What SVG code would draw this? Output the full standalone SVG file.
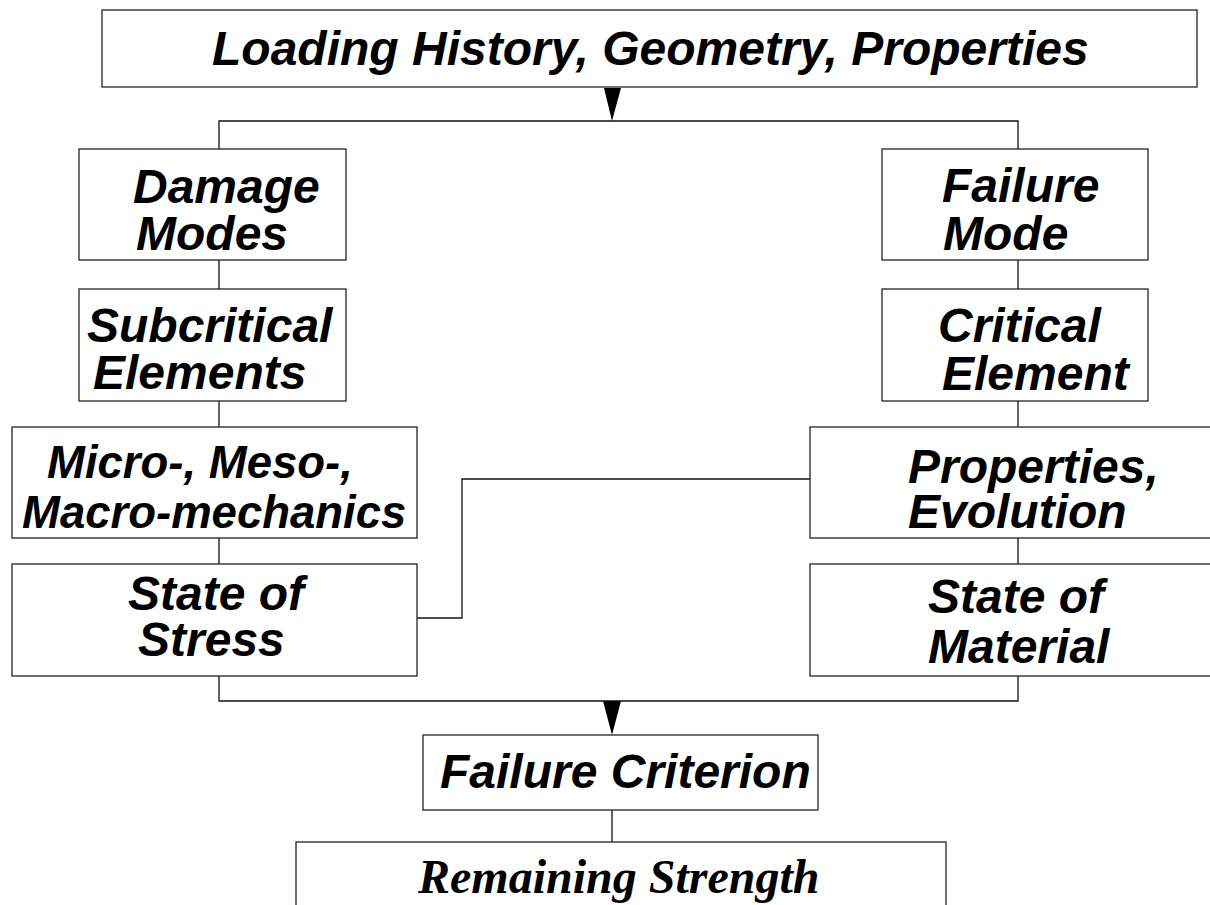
<svg xmlns="http://www.w3.org/2000/svg" width="1210" height="905" viewBox="0 0 1210 905">
<style>
.box{fill:#fff;stroke:#222;stroke-width:1.3}
.ln{fill:none;stroke:#111;stroke-width:1.3}
.t{font-family:"Liberation Sans",Arial,sans-serif;font-weight:bold;font-style:italic;font-size:48px;fill:#000}
.sm{font-size:45.5px}
.s{font-family:"Liberation Serif","Times New Roman",serif;font-weight:bold;font-style:italic;font-size:48px;fill:#000}
.ah{fill:#000}
</style>
<rect width="1210" height="905" fill="#fff"/>
<g id="connectors">
<polyline class="ln" points="219,149 219,121 1018,121 1018,149"/>
<polygon class="ah" points="604,88 621,88 612,121"/>
<line class="ln" x1="219" y1="260" x2="219" y2="289"/>
<line class="ln" x1="219" y1="401" x2="219" y2="427"/>
<line class="ln" x1="219" y1="538" x2="219" y2="564"/>
<line class="ln" x1="1018" y1="260" x2="1018" y2="289"/>
<line class="ln" x1="1018" y1="401" x2="1018" y2="427"/>
<line class="ln" x1="1018" y1="538" x2="1018" y2="564"/>
<polyline class="ln" points="417,618 462,618 462,479 810,479"/>
<polyline class="ln" points="219,676 219,701 1018,701 1018,676"/>
<polygon class="ah" points="603,701 621,701 612,735"/>
<line class="ln" x1="612" y1="810" x2="612" y2="842"/>
</g>
<g id="n-loading">
<rect class="box" x="102" y="10" width="1095" height="77"/>
<text class="t" x="212" y="65">Loading History, Geometry, Properties</text>
</g>
<g id="n-damage">
<rect class="box" x="79" y="149" width="267" height="111"/>
<text class="t" x="133" y="203">Damage</text>
<text class="t" x="136" y="250">Modes</text>
</g>
<g id="n-subcritical">
<rect class="box" x="79" y="289" width="267" height="112"/>
<text class="t" x="87" y="342">Subcritical</text>
<text class="t" x="93" y="389">Elements</text>
</g>
<g id="n-micro">
<rect class="box" x="12" y="427" width="405" height="111"/>
<text class="t sm" x="47" y="478">Micro-, Meso-,</text>
<text class="t sm" x="22" y="528">Macro-mechanics</text>
</g>
<g id="n-stress">
<rect class="box" x="12" y="564" width="405" height="112"/>
<text class="t" x="128" y="610">State of</text>
<text class="t" x="138" y="656">Stress</text>
</g>
<g id="n-failuremode">
<rect class="box" x="882" y="149" width="266" height="111"/>
<text class="t" x="942" y="202">Failure</text>
<text class="t" x="943" y="250">Mode</text>
</g>
<g id="n-critical">
<rect class="box" x="882" y="289" width="266" height="112"/>
<text class="t" x="938" y="342">Critical</text>
<text class="t" x="942" y="390">Element</text>
</g>
<g id="n-properties">
<rect class="box" x="810" y="427" width="405" height="111"/>
<text class="t" x="908" y="483">Properties,</text>
<text class="t" x="908" y="528">Evolution</text>
</g>
<g id="n-material">
<rect class="box" x="810" y="564" width="405" height="112"/>
<text class="t" x="928" y="613">State of</text>
<text class="t" x="928" y="663">Material</text>
</g>
<g id="n-criterion">
<rect class="box" x="423" y="735" width="395" height="75"/>
<text class="t" x="440" y="788">Failure Criterion</text>
</g>
<g id="n-remaining">
<rect class="box" x="296" y="842" width="650" height="80"/>
<text class="s" x="418" y="893">Remaining Strength</text>
</g>
</svg>
